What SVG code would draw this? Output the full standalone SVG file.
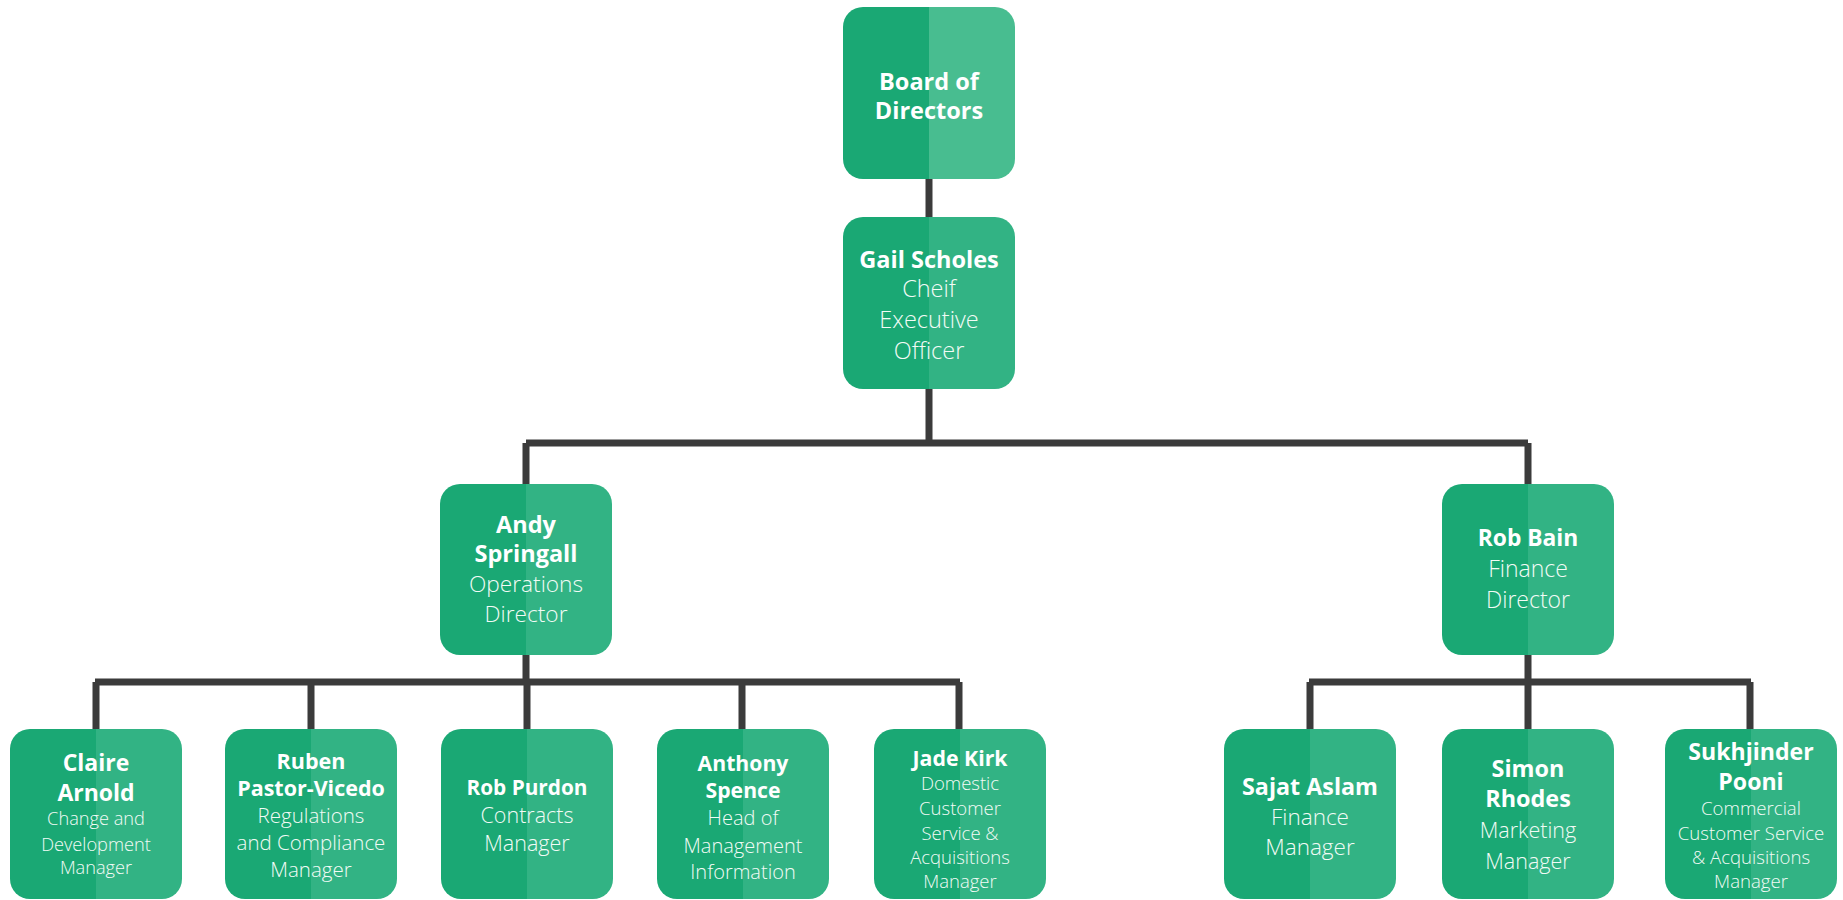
<svg xmlns="http://www.w3.org/2000/svg" width="1843" height="900" viewBox="0 0 1843 900">
<style>
.name{font-family:"Open Sans",Lato,"Liberation Sans",sans-serif;font-weight:700;fill:#ffffff;text-anchor:middle}
.title{font-family:"Open Sans",Lato,"Liberation Sans",sans-serif;font-weight:300;fill:#f2fbf6;text-anchor:middle}
.box{fill:url(#g)}
.boxb{fill:url(#gb)}
.conn{stroke:#3b3b3b;stroke-width:7;fill:none;stroke-linecap:butt;stroke-linejoin:miter}
</style>
<defs>
<linearGradient id="g" x1="0" y1="0" x2="1" y2="0">
<stop offset="0.5" stop-color="#1aa874"/><stop offset="0.5" stop-color="#32b384"/>
</linearGradient>
<linearGradient id="gb" x1="0" y1="0" x2="1" y2="0">
<stop offset="0.5" stop-color="#1aa874"/><stop offset="0.5" stop-color="#48bd90"/>
</linearGradient>
</defs>
<rect width="1843" height="900" fill="#ffffff"/>
<g id="connectors">
<path class="conn" d="M929 179V217"/>
<path class="conn" d="M929 389V443M526 443H1528M526 443V484M1528 443V484"/>
<path class="conn" d="M526 655V682M95 682H960M96 682V729M311 682V729M527 682V729M742 682V729M959 682V729"/>
<path class="conn" d="M1528 655V682M1309 682H1751M1310 682V729M1528 682V729M1750 682V729"/>
</g>
<g id="board"><rect class="boxb" x="843" y="7" width="172" height="172" rx="20"/>
<text class="name" font-size="23.5" x="929" y="90">Board of</text><text class="name" font-size="23.5" x="929" y="119">Directors</text></g>
<g id="gail"><rect class="box" x="843" y="217" width="172" height="172" rx="20"/>
<g font-size="23.5"><text class="name" x="929" y="268">Gail Scholes</text><text class="title" x="929" y="297">Cheif</text><text class="title" x="929" y="328">Executive</text><text class="title" x="929" y="359">Officer</text></g></g>
<g id="andy"><rect class="box" x="440" y="484" width="172" height="171" rx="20"/>
<g font-size="23.5"><text class="name" x="526" y="533">Andy</text><text class="name" x="526" y="562">Springall</text></g>
<g font-size="22.7"><text class="title" x="526" y="592">Operations</text><text class="title" x="526" y="622">Director</text></g></g>
<g id="robbain"><rect class="box" x="1442" y="484" width="172" height="171" rx="20"/>
<text class="name" font-size="22.8" x="1528" y="546">Rob Bain</text>
<g font-size="23"><text class="title" x="1528" y="577">Finance</text><text class="title" x="1528" y="608">Director</text></g></g>
<g id="claire"><rect class="box" x="10" y="729" width="172" height="170" rx="20"/>
<g font-size="23"><text class="name" x="96" y="771">Claire</text><text class="name" x="96" y="801">Arnold</text></g>
<g font-size="18.2"><text class="title" x="96" y="825">Change and</text><text class="title" x="96" y="851">Development</text><text class="title" x="96" y="874">Manager</text></g></g>
<g id="ruben"><rect class="box" x="225" y="729" width="172" height="170" rx="20"/>
<g font-size="21.5"><text class="name" x="311" y="769">Ruben</text><text class="name" x="311" y="796">Pastor-Vicedo</text></g>
<g font-size="20.5"><text class="title" x="311" y="823">Regulations</text><text class="title" x="311" y="850">and Compliance</text><text class="title" x="311" y="877">Manager</text></g></g>
<g id="purdon"><rect class="box" x="441" y="729" width="172" height="170" rx="20"/>
<text class="name" font-size="20.8" x="527" y="795">Rob Purdon</text>
<g font-size="21.5"><text class="title" x="527" y="823">Contracts</text><text class="title" x="527" y="851">Manager</text></g></g>
<g id="anthony"><rect class="box" x="657" y="729" width="172" height="170" rx="20"/>
<g font-size="21.2"><text class="name" x="743" y="771">Anthony</text><text class="name" x="743" y="798">Spence</text></g>
<g font-size="20"><text class="title" x="743" y="825">Head of</text><text class="title" x="743" y="853">Management</text><text class="title" x="743" y="879">Information</text></g></g>
<g id="jade"><rect class="box" x="874" y="729" width="172" height="170" rx="20"/>
<text class="name" font-size="21.3" x="960" y="766">Jade Kirk</text>
<g font-size="18.5"><text class="title" x="960" y="790">Domestic</text><text class="title" x="960" y="815">Customer</text><text class="title" x="960" y="840">Service &amp;</text><text class="title" x="960" y="864">Acquisitions</text><text class="title" x="960" y="888">Manager</text></g></g>
<g id="sajat"><rect class="box" x="1224" y="729" width="172" height="170" rx="20"/>
<text class="name" font-size="23.3" x="1310" y="795">Sajat Aslam</text>
<g font-size="22.5"><text class="title" x="1310" y="825">Finance</text><text class="title" x="1310" y="855">Manager</text></g></g>
<g id="simon"><rect class="box" x="1442" y="729" width="172" height="170" rx="20"/>
<g font-size="23.4"><text class="name" x="1528" y="777">Simon</text><text class="name" x="1528" y="807">Rhodes</text></g>
<g font-size="21.5"><text class="title" x="1528" y="838">Marketing</text><text class="title" x="1528" y="869">Manager</text></g></g>
<g id="sukhjinder"><rect class="box" x="1665" y="729" width="172" height="170" rx="20"/>
<g font-size="23.1"><text class="name" x="1751" y="760">Sukhjinder</text><text class="name" x="1751" y="790">Pooni</text></g>
<g font-size="18.6"><text class="title" x="1751" y="815">Commercial</text><text class="title" x="1751" y="840">Customer Service</text><text class="title" x="1751" y="864">&amp; Acquisitions</text><text class="title" x="1751" y="888">Manager</text></g></g>
</svg>
